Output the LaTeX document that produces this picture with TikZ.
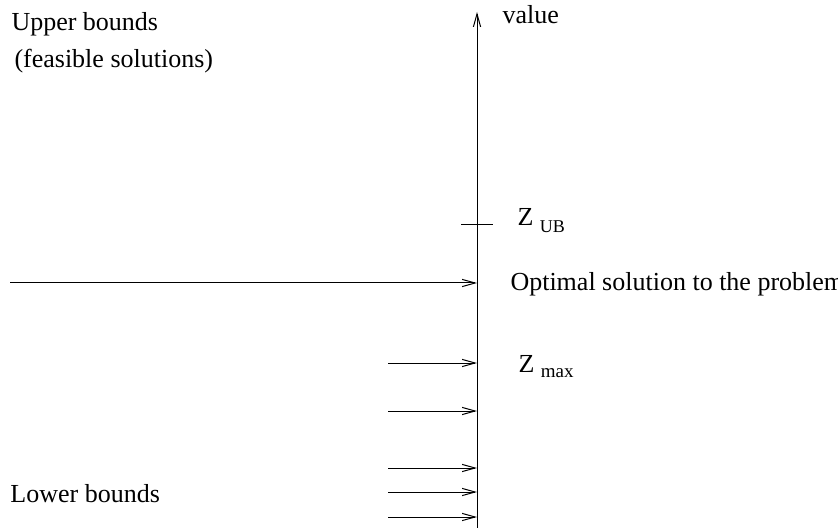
\documentclass[tikz,border=0pt]{standalone}
\usepackage{fontspec}
\setmainfont{Liberation Serif}
\usetikzlibrary{arrows.meta,positioning}
\tikzset{
  label/.style={anchor=base west, inner sep=0pt, font=\fontsize{13}{15}\selectfont},
  bound/.style={->, line width=0.5pt},
  subs/.style={font=\fontsize{8.5}{10}\selectfont}
}

\begin{document}
\begin{tikzpicture}[x=0.5pt, y=-0.5pt, >={Straight Barb[length=6.5pt,width=3.6pt]}, line width=0.5pt]
  \useasboundingbox (0,0) rectangle (838,528);
  \coordinate (axisbot) at (477,528);
  \coordinate (axistop) at (477,12);
  \draw[->] (axisbot) -- (axistop);
  \node[label] (value) at (502,24) {value};
  \node[label] (upper) at (11,31) {Upper bounds};
  \node[label] (feas) at (14,68) {(feasible solutions)};
  \node[label] (lower) at (10,502) {Lower bounds};
  \coordinate (ubl) at (461,225);
  \coordinate (ubr) at (493,225);
  \draw (ubl) -- (ubr);
  \node[label] (zub) at (517,226) {Z \raisebox{-3.5pt}{\fontsize{9}{10}\selectfont UB}};
  \coordinate (optstart) at (10,283);
  \coordinate (opt) at (477,283);
  \draw[bound] (optstart) -- (opt);
  \node[label] (optimal) at (510,290.5) {Optimal solution to the problem};
  \foreach \y/\n in {363/zmax, 411/lb2, 468/lb3, 492/lb4, 517/lb5} {
    \coordinate (\n-s) at (388,\y);
    \coordinate (\n) at (477,\y);
    \draw[bound] (\n-s) -- (\n);
  }
  \node[label] (zmaxl) at (518,372) {Z \raisebox{-2.5pt}{\fontsize{9.5}{10}\selectfont max}};
\end{tikzpicture}
\end{document}
